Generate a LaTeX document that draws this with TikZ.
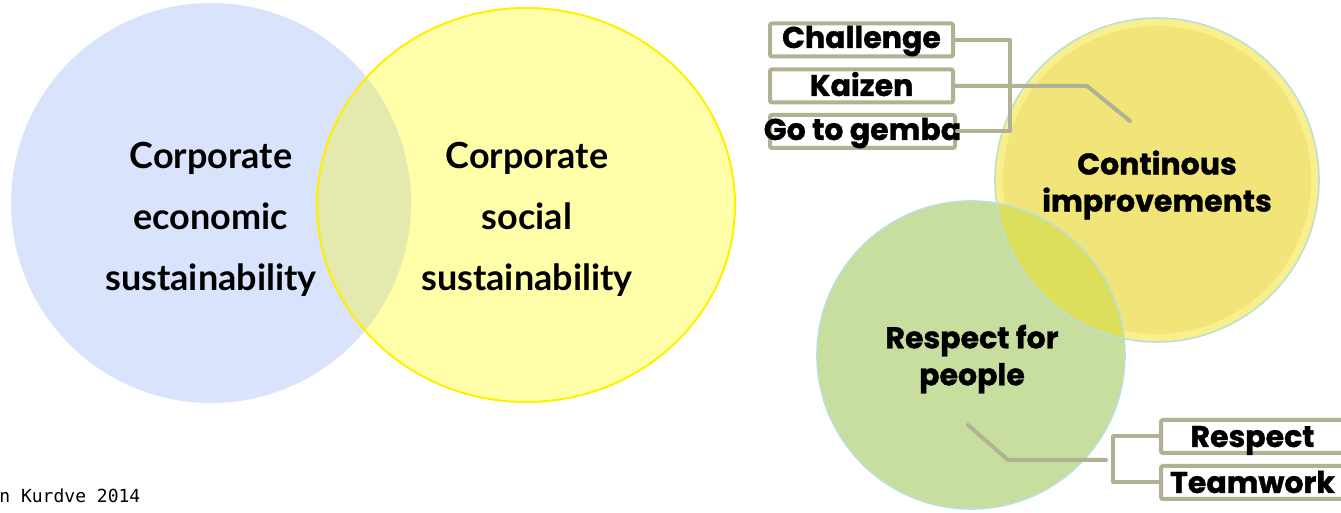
\documentclass[tikz,border=0pt]{standalone}
\usepackage{fontspec}
\setmainfont{Lato}
\newfontfamily\pop{Poppins}[BoldFeatures={FakeBold=1.2}]
\newfontfamily\mono{DejaVu Sans Mono}
\definecolor{lblue}{HTML}{D9E3FB}
\definecolor{lyellow}{HTML}{FFFFAA}
\definecolor{loverlap}{HTML}{E4E9AD}
\definecolor{lyborder}{HTML}{FFF000}
\definecolor{ryellow}{HTML}{F1E57A}
\definecolor{ryrim}{HTML}{F9EF8C}
\definecolor{rgreen}{HTML}{C7DE9F}
\definecolor{roverlap}{HTML}{DCDF5C}
\definecolor{ring}{HTML}{BCE0D6}
\definecolor{linkcol}{HTML}{B3B193}
\tikzset{
  bigtxt/.style={font=\bfseries\fontsize{18}{30.5}\selectfont, align=center, inner sep=0pt},
  circtxt/.style={font=\pop\bfseries\fontsize{15}{18.5}\selectfont, align=center, inner sep=0pt},
  tagbox/.style={draw=linkcol, line width=2pt, fill=white, rounded corners=1pt, minimum width=91.5pt, minimum height=16.5pt, inner sep=0pt},
  tagtxt/.style={font=\pop\bfseries\fontsize{15}{18}\selectfont, inner sep=0pt, anchor=base},
  link/.style={draw=linkcol, line width=2pt, line cap=round, line join=round},
}
\begin{document}
\begin{tikzpicture}[x=0.5pt,y=-0.5pt]
\useasboundingbox (0,0) rectangle (1341,513);
% ---- left Venn ----
\fill[lblue] (211,203) circle[radius=100pt];
\fill[lyellow] (526,205) ellipse[x radius=104.5pt, y radius=98.5pt];
\begin{scope}
  \clip (211,203) circle[radius=100pt];
  \fill[loverlap] (526,205) ellipse[x radius=104.5pt, y radius=98.5pt];
\end{scope}
\draw[lyborder, line width=1pt] (526,205) ellipse[x radius=104.5pt, y radius=98.5pt];
\node[bigtxt] (econ) at (211,219) {Corporate\\economic\\sustainability};
\node[bigtxt] (soc) at (527,219) {Corporate\\social\\sustainability};
% ---- right circles ----
\fill[rgreen] (971,355) circle[radius=77pt];
\fill[ryrim] (1157,180) circle[radius=81pt];
\fill[ryellow] (1157,180) circle[radius=77pt];
\begin{scope}
  \clip (971,355) circle[radius=77pt];
  \fill[roverlap] (1157,180) circle[radius=81pt];
\end{scope}
\draw[ring, line width=0.8pt] (971,355) circle[radius=77pt];
\draw[ring, line width=0.8pt] (1157,180) circle[radius=81pt];
\node[circtxt] (ci) at (1157,185) {Continous\\improvements};
\node[circtxt] (rp) at (972,359) {Respect for\\people};
% ---- tag boxes ----
\node[tagbox] (challenge) at (861.5,40) {};
\node[tagtxt] at (861.5,48) {Challenge};
\node[tagbox] (kaizen) at (861.5,86) {};
\node[tagtxt] at (861.5,96) {Kaizen};
\node[tagbox, minimum width=92.5pt] (gemba) at (862.5,131.5) {};
\node[tagtxt] at (862.5,140) {Go to gemba};
\node[tagbox] (respect) at (1252.5,436.5) {};
\node[tagtxt] at (1252.5,447) {Respect};
\node[tagbox] (teamwork) at (1252.5,482.5) {};
\node[tagtxt] at (1252.5,493) {Teamwork};
% ---- connectors ----
\draw[link] (challenge.east) -- ++(55,0) |- (gemba.east);
\coordinate (kzbend) at (1087,86);
\coordinate (kzend) at (1130,121);
\draw[link] (kaizen.east) -- (kzbend) -- (kzend);
\coordinate (rpstart) at (968,425);
\coordinate (rpbend) at (1008,460);
\coordinate (rpend) at (1106,460);
\draw[link] (rpstart) -- (rpbend) -- (rpend);
\draw[link] (respect.west) -- ++(-46,0) |- (teamwork.west);
% ---- footer ----
\node[font=\mono\fontsize{9}{11}\selectfont, anchor=base west, inner sep=0pt] (foot) at (-1,503) {n Kurdve 2014};
\end{tikzpicture}
\end{document}
